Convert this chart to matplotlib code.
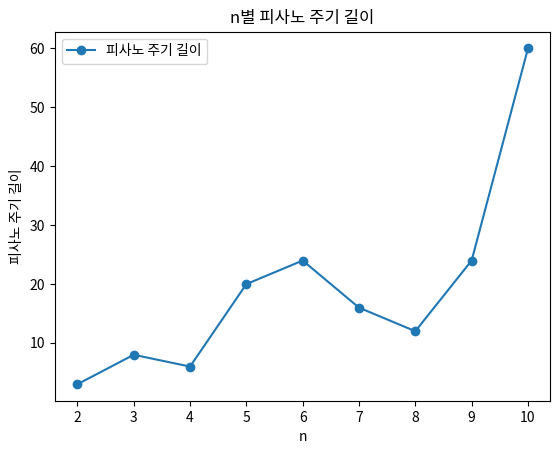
import matplotlib
matplotlib.use("Agg")
import matplotlib.pyplot as plt

plt.rcParams['font.family'] = ['Noto Sans CJK KR', 'DejaVu Sans']

n_values = [2, 3, 4, 5, 6, 7, 8, 9, 10]
pisano_lengths = [3, 8, 6, 20, 24, 16, 12, 24, 60]

fig = plt.figure(figsize=(5.6, 4.54), dpi=100)
ax = fig.add_axes([0.098, 0.1167, 0.885, 0.8135])
ax.plot(n_values, pisano_lengths, marker='o', label='피사노 주기 길이')
ax.set_title('n별 피사노 주기 길이')
ax.set_xlabel('n')
ax.set_ylabel('피사노 주기 길이')
ax.legend(loc='upper left')
fig.savefig('out.png', dpi=100)
